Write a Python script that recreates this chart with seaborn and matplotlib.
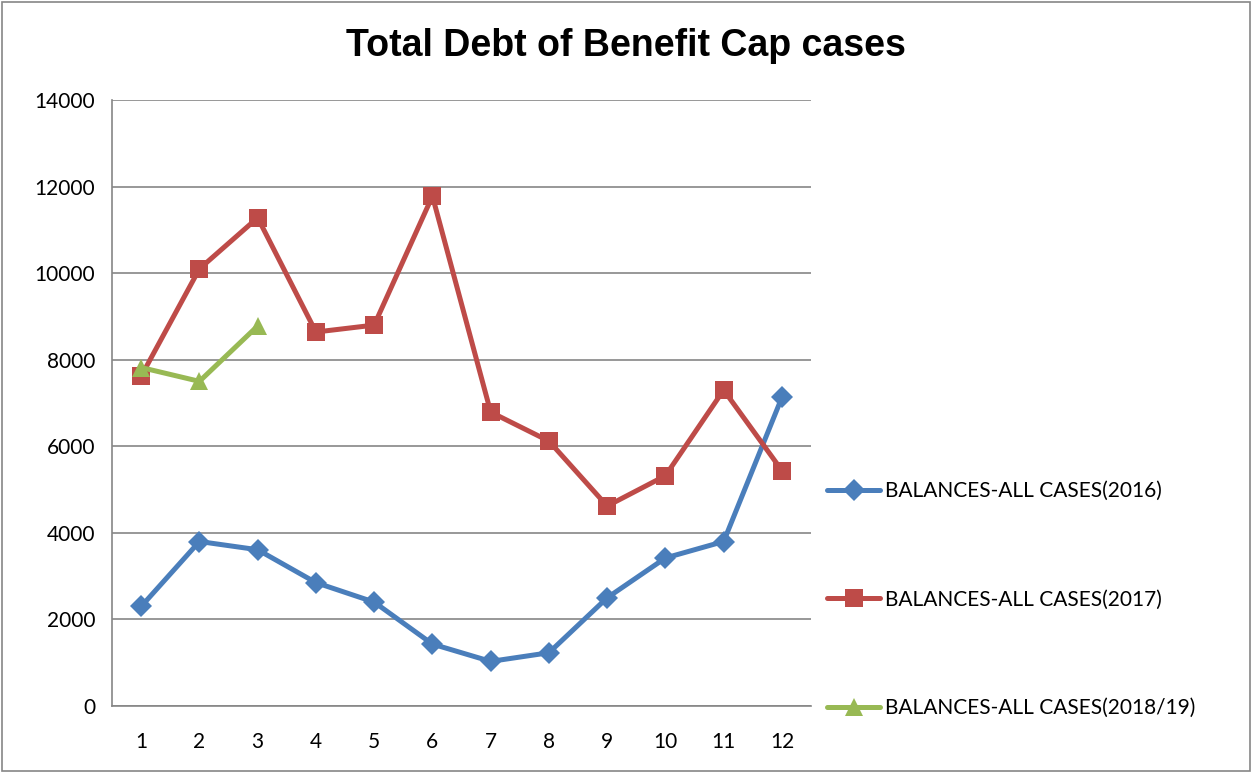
import matplotlib
matplotlib.use("Agg")
import matplotlib.pyplot as plt
from matplotlib.patches import Rectangle
import numpy as np
import pandas as pd
import seaborn as sns

# Monthly periods and outstanding debt balances per series
months = [1, 2, 3, 4, 5, 6, 7, 8, 9, 10, 11, 12]
balances_2016 = [2300, 3800, 3610, 2850, 2400, 1430, 1030, 1230, 2500, 3420, 3800, 7130]
balances_2017 = [7620, 10100, 11280, 8640, 8800, 11780, 6790, 6120, 4620, 5320, 7300, 5440]
balances_2018 = [7820, 7500, 8780]

series_names = [
    "BALANCES-ALL CASES(2016)",
    "BALANCES-ALL CASES(2017)",
    "BALANCES-ALL CASES(2018/19)",
]
series_values = [balances_2016, balances_2017, balances_2018]
series_colors = ["#4A7EBB", "#BE4B48", "#98B954"]
series_markers = ["D", "s", "^"]
marker_sizes = [11, 13, 13]
y_ticks = [0, 2000, 4000, 6000, 8000, 10000, 12000, 14000]

rows = []
for name, vals in zip(series_names, series_values):
    for m, v in zip(months, vals):
        rows.append({"month": m, "balance": v, "series": name})
df = pd.DataFrame(rows)

sns.set_style("white")
plt.rcParams["font.family"] = ["Lato", "DejaVu Sans"]
plt.rcParams["text.color"] = "black"
plt.rcParams["xtick.color"] = "black"
plt.rcParams["ytick.color"] = "black"

fig = plt.figure(figsize=(12.52, 7.73), dpi=100)
ax = fig.add_axes([0.0895, 0.0867, 0.5583, 0.7839])

for name, color, mk, ms in zip(series_names, series_colors, series_markers, marker_sizes):
    sub = df[df["series"] == name]
    sns.lineplot(data=sub, x="month", y="balance", ax=ax, color=color,
                 linewidth=3.6, marker=mk, markersize=ms, markeredgewidth=0,
                 label=name, zorder=3)

ax.set_xlim(0.5, 12.5)
ax.set_ylim(0, 14000)
ax.set_yticks(y_ticks)
ax.set_yticklabels([str(t) for t in y_ticks], fontsize=15)
ax.set_xticks(np.arange(0.5, 13.0, 1.0))
ax.set_xticklabels([])
ax.set_xticks(months, minor=True)
ax.set_xticklabels([str(m) for m in months], minor=True, fontsize=15)
ax.tick_params(axis="x", which="major", direction="out", length=7, width=1.2, color="#868686")
ax.tick_params(axis="x", which="minor", length=0, pad=19)
ax.tick_params(axis="y", direction="out", length=6, width=1.2, color="#868686", pad=6)
ax.yaxis.grid(True, color="#868686", linewidth=1.2)
ax.xaxis.grid(False)
ax.set_axisbelow(True)
for side in ["top", "right"]:
    ax.spines[side].set_visible(False)
for side in ["left", "bottom"]:
    ax.spines[side].set_color("#868686")
    ax.spines[side].set_linewidth(1.2)
ax.set_xlabel("")
ax.set_ylabel("")

ax.legend(loc="upper left", bbox_to_anchor=(1.011, 0.385), frameon=False,
          fontsize=15, labelspacing=4.25, handlelength=2.55, handletextpad=0.25,
          borderaxespad=0)

fig.text(0.5, 0.941, "Total Debt of Benefit Cap cases", ha="center", va="center",
         fontsize=27, fontweight="bold", family=["Liberation Sans", "DejaVu Sans"])

fig.patches.append(Rectangle((0.0016, 0.0026), 0.9968, 0.9948, transform=fig.transFigure,
                             fill=False, edgecolor="#868686", linewidth=1.2))

fig.savefig("out.png", dpi=100)
